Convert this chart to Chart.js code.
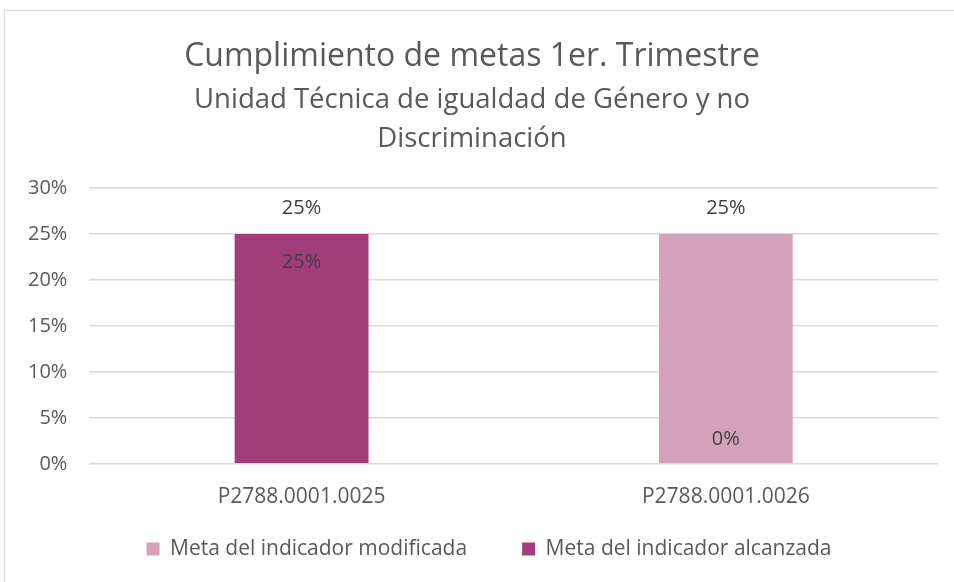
<!DOCTYPE html>
<html lang="es">
<head>
<meta charset="UTF-8">
<title>Cumplimiento de metas</title>
<script src="https://cdn.jsdelivr.net/npm/chart.js"></script>
<style>
  body { margin: 0; background: #fff; }
  .marco {
    position: absolute; left: 4px; top: 10px;
    width: 1200px; height: 800px;
    border: 1px solid #D9D9D9;
  }
  .caja { position: absolute; left: 0; top: 0; width: 954px; height: 582px; }
</style>
</head>
<body>
<div class="marco"></div>
<div class="caja"><canvas id="grafico"></canvas></div>

<script>
// datos
const categorias = ['P2788.0001.0025', 'P2788.0001.0026'];
const metaModificada = [0.25, 0.25];
const metaAlcanzada = [0.25, 0];
const etiquetasY = [0, 0.05, 0.10, 0.15, 0.20, 0.25, 0.30];

const fuente = '"Open Sans", Lato, sans-serif';

function pct(v) {
  return Math.round(v * 100) + '%';
}

// etiquetas de datos tipo Excel + ajuste de la leyenda
const etiquetas = {
  id: 'etiquetas',
  afterInit(chart) {
    // la leyenda usa el padding tambien en vertical, lo recortamos
    const fitOriginal = chart.legend.fit;
    chart.legend.fit = function () {
      fitOriginal.call(this);
      this.height = 49;
    };
  },
  afterLayout(chart) {
    // solo subimos el borde superior (la leyenda recorta a su caja)
    chart.legend.top -= 39.5;
    chart.legend.left += 17;
    chart.legend.right += 17;
  },
  afterDatasetsDraw(chart) {
    const ctx = chart.ctx;
    ctx.save();
    ctx.font = '20px ' + fuente;
    ctx.fillStyle = '#404040';
    ctx.textAlign = 'center';
    ctx.textBaseline = 'middle';
    chart.data.datasets.forEach(function (ds, i) {
      const meta = chart.getDatasetMeta(i);
      meta.data.forEach(function (bar, j) {
        const v = ds.data[j];
        let y;
        if (ds.posicion === 'fuera') {
          y = bar.y - 26;
        } else if (v === 0) {
          y = bar.base - 25;
        } else {
          y = bar.y + 28;
        }
        ctx.fillText(pct(v), bar.x, y);
      });
    });
    ctx.restore();
  }
};

new Chart(document.getElementById('grafico'), {
  type: 'bar',
  data: {
    labels: categorias,
    datasets: [
      {
        label: 'Meta del indicador modificada',
        data: metaModificada,
        backgroundColor: '#D4A1B8',
        grouped: false,
        order: 2,
        posicion: 'fuera'
      },
      {
        label: 'Meta del indicador alcanzada',
        data: metaAlcanzada,
        backgroundColor: '#A03D7A',
        grouped: false,
        order: 1,
        posicion: 'dentro'
      }
    ]
  },
  options: {
    responsive: true,
    maintainAspectRatio: false,
    animation: false,
    categoryPercentage: 1,
    barPercentage: 0.315,
    layout: { padding: { left: 6, right: 16, top: 38, bottom: 10 } },
    plugins: {
      title: {
        display: true,
        text: 'Cumplimiento de metas 1er. Trimestre',
        color: '#595959',
        font: { family: fuente, size: 32, weight: 'normal', lineHeight: 1.15 },
        padding: { top: 0, bottom: 6 }
      },
      subtitle: {
        display: true,
        text: ['Unidad Técnica de igualdad de Género y no', 'Discriminación'],
        color: '#595959',
        font: { family: fuente, size: 27.5, weight: 'normal', lineHeight: 1.42 },
        padding: { top: 0, bottom: 29 }
      },
      legend: {
        position: 'bottom',
        labels: {
          color: '#595959',
          font: { family: fuente, size: 21 },
          boxWidth: 13,
          boxHeight: 13,
          padding: 55,
          sort: function (a, b) { return a.datasetIndex - b.datasetIndex; }
        }
      },
      tooltip: { enabled: false }
    },
    scales: {
      x: {
        grid: { display: false },
        border: { display: false },
        ticks: {
          color: '#595959',
          font: { family: fuente, size: 21 },
          padding: 13
        }
      },
      y: {
        min: 0,
        max: 0.3,
        afterBuildTicks(axis) {
          axis.ticks = etiquetasY.map(function (v) { return { value: v }; });
        },
        grid: { color: '#D9D9D9', lineWidth: 1.5, drawTicks: false },
        border: { display: false },
        ticks: {
          color: '#595959',
          font: { family: fuente, size: 20 },
          padding: 22,
          callback: function (v) { return pct(v); }
        }
      }
    }
  },
  plugins: [etiquetas]
});
</script>
</body>
</html>
